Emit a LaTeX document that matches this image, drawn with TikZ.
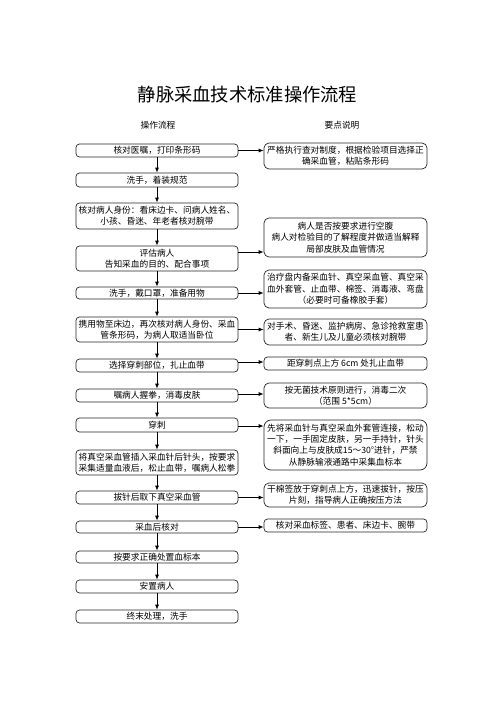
\documentclass[tikz,border=0pt]{standalone}
\usepackage{fontspec}
\setmainfont{Noto Sans CJK SC}
\usetikzlibrary{arrows.meta,calc}
\tikzset{
  basefont/.style={font=\fontsize{8.7}{11.3}\selectfont},
  lbox/.style={draw=black!85, line width=0.7pt, rounded corners=3.5pt, minimum width=162pt, inner sep=0pt, align=center, basefont},
  rbox/.style={draw=black!85, line width=0.7pt, rounded corners=5pt, minimum width=163pt, inner sep=0pt, align=center, basefont},
  arr/.style={draw=black, line width=0.8pt, -{Latex[length=5pt,width=4pt]}},
  heading/.style={basefont}
}
\begin{document}
\begin{tikzpicture}[x=1pt,y=-1pt]
\useasboundingbox (0,0) rectangle (496,702);
\fill[white] (0,0) rectangle (496,702);

\node[font=\fontsize{18.3}{20}\selectfont] (title) at (247.5,95) {静脉采血技术标准操作流程};
\node[heading] (h1) at (158,125) {操作流程};
\node[heading] (h2) at (342,125) {要点说明};

% left column
\node[lbox, minimum height=13pt] (l1) at (157,150.5) {核对医嘱，打印条形码};
\node[lbox, minimum height=14pt] (l2) at (157,180) {洗手，着装规范};
\node[lbox, minimum height=26pt] (l3) at (157,216) {核对病人身份：看床边卡、问病人姓名、\\小孩、昏迷、年老者核对腕带};
\node[lbox, minimum height=25pt] (l4) at (157,258.5) {评估病人\\告知采血的目的、配合事项};
\node[lbox, minimum height=12pt] (l5) at (157,293) {洗手，戴口罩，准备用物};
\node[lbox, minimum height=25pt] (l6) at (157,329.5) {携用物至床边，再次核对病人身份、采血\\管条形码，为病人取适当卧位};
\node[lbox, minimum height=13pt] (l7) at (157,365.5) {选择穿刺部位，扎止血带};
\node[lbox, minimum height=13pt] (l8) at (157,395.5) {嘱病人握拳，消毒皮肤};
\node[lbox, minimum height=14pt] (l9) at (157,425) {穿刺};
\node[lbox, minimum height=25pt] (l10) at (157,462.5) {将真空采血管插入采血针后针头，按要求\\采集适量血液后，松止血带，嘱病人松拳};
\node[lbox, minimum height=13pt] (l11) at (157,497.5) {拔针后取下真空采血管};
\node[lbox, minimum height=12pt] (l12) at (157,527) {采血后核对};
\node[lbox, minimum height=12pt] (l13) at (157,557) {按要求正确处置血标本};
\node[lbox, minimum height=13pt] (l14) at (157,586.5) {安置病人};
\node[lbox, minimum height=13pt] (l15) at (157,616.5) {终末处理，洗手};

% right column
\node[rbox, minimum height=26pt] (r1) at (345.5,156) {严格执行查对制度，根据检验项目选择正\\确采血管，粘贴条形码};
\node[rbox, minimum height=39pt] (r2) at (345.5,237.5) {病人是否按要求进行空腹\\病人对检验目的了解程度并做适当解释\\局部皮肤及血管情况};
\node[rbox, minimum height=38pt] (r3) at (345.5,289) {治疗盘内备采血针、真空采血管、真空采\\血外套管、止血带、棉签、消毒液、弯盘\\（必要时可备橡胶手套）};
\node[rbox, minimum height=26pt] (r4) at (345.5,332) {对手术、昏迷、监护病房、急诊抢救室患\\者、新生儿及儿童必须核对腕带};
\node[rbox, minimum height=13pt, rounded corners=3.5pt] (r5) at (345.5,363.5) {距穿刺点上方 6cm 处扎止血带};
\node[rbox, minimum height=25pt] (r6) at (345.5,395.5) {按无菌技术原则进行，消毒二次\\（范围 5*5cm）};
\node[rbox, minimum height=50pt, rounded corners=7pt] (r7) at (345.5,445) {先将采血针与真空采血外套管连接，松动\\一下，一手固定皮肤，另一手持针，针头\\斜面向上与皮肤成15～30°进针，严禁\\从静脉输液通路中采集血标本};
\node[rbox, minimum height=24pt] (r8) at (345.5,495) {干棉签放于穿刺点上方，迅速拔针，按压\\片刻，指导病人正确按压方法};
\node[rbox, minimum height=13pt, rounded corners=3.5pt] (r9) at (345.5,525.5) {核对采血标签、患者、床边卡、腕带};

% vertical flow arrows
\foreach \a/\b in {l1/l2,l2/l3,l3/l4,l4/l5,l5/l6,l6/l7,l7/l8,l8/l9,l9/l10,l10/l11,l11/l12,l12/l13,l13/l14,l14/l15}
  \draw[arr] (\a.south) -- (\b.north);

% horizontal arrows
\draw[arr] (l1.east) -- (l1.east -| r1.west);
\draw[arr] ([yshift=6.5pt]l4.east) -- ([yshift=6.5pt]l4.east -| r2.west);
\draw[arr] (l5.east) -- (l5.east -| r3.west);
\draw[arr] (l6.east) -- (l6.east -| r4.west);
\draw[arr] ([yshift=3.5pt]l7.east) -- ([yshift=3.5pt]l7.east -| r5.west);
\draw[arr] ([yshift=1.5pt]l8.east) -- ([yshift=1.5pt]l8.east -| r6.west);
\draw[arr] ([yshift=-1pt]l9.east) -- ([yshift=-1pt]l9.east -| r7.west);
\draw[arr] (l11.east) -- (l11.east -| r8.west);
\draw[arr] (l12.east) -- (l12.east -| r9.west);
\end{tikzpicture}
\end{document}
